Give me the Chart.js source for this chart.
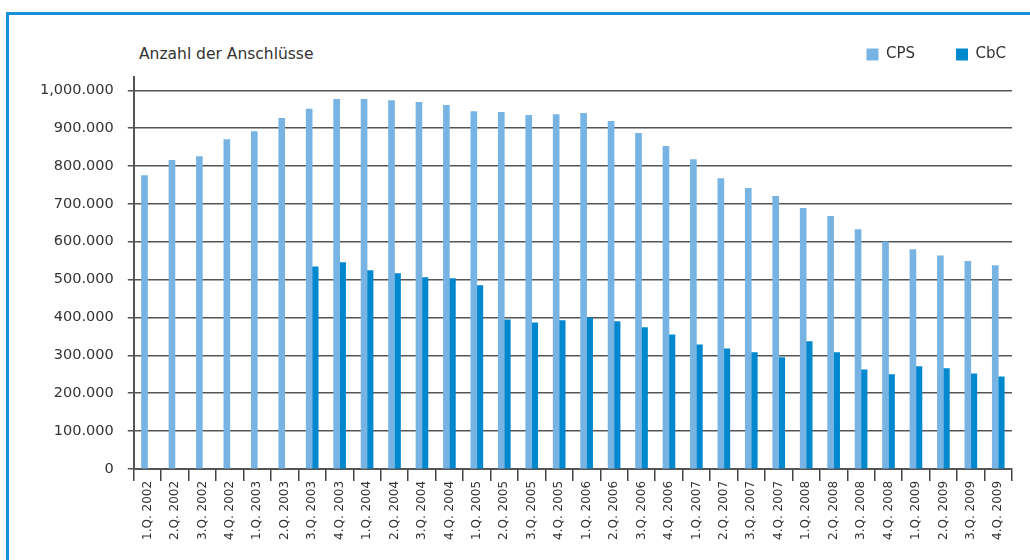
<!DOCTYPE html>
<html>
<head>
<meta charset="utf-8">
<script src="https://cdn.jsdelivr.net/npm/chart.js@4/dist/chart.umd.min.js"></script>
<style>
  html, body { margin: 0; padding: 0; background: #fff; }
  #wrap { position: relative; width: 1030px; height: 560px; overflow: hidden; }
  /* blue frame: only top and left edges are visible */
  #frame { position: absolute; left: 6px; top: 12px; width: 1100px; height: 700px;
           border-top: 3px solid #1690d6; border-left: 3px solid #1690d6; }
  #title { position: absolute; left: 139px; top: 45px; line-height: 16px;
           font: 15.5px "DejaVu Sans", sans-serif; color: #333; }
  canvas { position: absolute; left: 0; top: 0; }
</style>
</head>
<body>
<div id="wrap">
  <div id="frame"></div>
  <div id="title">Anzahl der Anschlüsse</div>
  <canvas id="chart" width="1030" height="560"></canvas>
</div>
<script>
/* Data */
const quarters = [
  '1.Q. 2002', '2.Q. 2002', '3.Q. 2002', '4.Q. 2002',
  '1.Q. 2003', '2.Q. 2003', '3.Q. 2003', '4.Q. 2003',
  '1.Q. 2004', '2.Q. 2004', '3.Q. 2004', '4.Q. 2004',
  '1.Q. 2005', '2.Q. 2005', '3.Q. 2005', '4.Q. 2005',
  '1.Q. 2006', '2.Q. 2006', '3.Q. 2006', '4.Q. 2006',
  '1.Q. 2007', '2.Q. 2007', '3.Q. 2007', '4.Q. 2007',
  '1.Q. 2008', '2.Q. 2008', '3.Q. 2008', '4.Q. 2008',
  '1.Q. 2009', '2.Q. 2009', '3.Q. 2009', '4.Q. 2009'
];

const cpsValues = [
  775000, 815000, 825000, 870000, 891000, 926000, 950000, 976000,
  976000, 973000, 968000, 960000, 944000, 942000, 934000, 936000,
  939000, 918000, 886000, 852000, 817000, 767000, 741000, 720000,
  688000, 667000, 632000, 600000, 579000, 563000, 548000, 537000
];

const cbcValues = [
  null, null, null, null, null, null, 534000, 545000,
  524000, 516000, 505000, 503000, 484000, 394000, 386000, 392000,
  399000, 389000, 373000, 354000, 328000, 317000, 307000, 294000,
  336000, 307000, 262000, 249000, 270000, 265000, 251000, 243000
];

const yTicks = [0, 100000, 200000, 300000, 400000, 500000, 600000, 700000, 800000, 900000, 1000000];

/* 1000000 -> "1,000.000", 900000 -> "900.000" */
function formatNumber(v) {
    if (v === 0) return '0';
    const s = String(v);
    let out = '';
    let count = 0;
    for (let i = s.length - 1; i >= 0; i--) {
        out = s[i] + out;
        count++;
        if (count % 3 === 0 && i > 0) {
            out = (count === 3 ? '.' : ',') + out;
        }
    }
    return out;
}

const textColor = '#333333';
const fontFamily = '"DejaVu Sans", sans-serif';

/* Legend tweaks: a bit more room under it, and pushed to the right edge */
const legendFitPlugin = {
    id: 'legendFit',
    beforeInit(chart) {
        const origFit = chart.legend.fit;
        chart.legend.fit = function () {
            origFit.call(this);
            this.height += 5;
        };
    },
    afterLayout(chart) {
        chart.legend.right += 35;
    }
};

var ctx = document.getElementById('chart');
var chart = new Chart(ctx, {
    type: 'bar',
    data: {
        labels: quarters,
        datasets: [{
            label: 'CPS',
            data: cpsValues,
            backgroundColor: '#78b4e3',
            barThickness: 6
        }, {
            label: 'CbC',
            data: cbcValues,
            backgroundColor: '#0088cf',
            barThickness: 6
        }]
    },
    options: {
        responsive: false,
        animation: false,
        layout: {
            padding: { left: 26, right: 18, top: 6, bottom: 20 }
        },
        plugins: {
            legend: {
                position: 'top',
                align: 'end',
                labels: {
                    boxWidth: 12,
                    boxHeight: 12,
                    padding: 41,
                    color: textColor,
                    font: { family: fontFamily, size: 15 }
                }
            },
            tooltip: { enabled: false }
        },
        scales: {
            x: {
                grid: {
                    offset: true,
                    drawOnChartArea: false,
                    drawTicks: true,
                    tickLength: 12,
                    color: '#444',
                    lineWidth: 1.5
                },
                border: { color: '#555', width: 2 },
                ticks: {
                    autoSkip: false,
                    minRotation: 90,
                    maxRotation: 90,
                    padding: 0,
                    color: textColor,
                    font: { family: fontFamily, size: 12 }
                }
            },
            y: {
                min: 0,
                max: 1035000,
                afterBuildTicks: (axis) => {
                    axis.ticks = yTicks.map(v => ({ value: v }));
                },
                grid: {
                    color: '#555',
                    lineWidth: 1.5,
                    tickLength: 6
                },
                border: { color: '#555', width: 2 },
                ticks: {
                    padding: 14,
                    color: textColor,
                    font: { family: fontFamily, size: 14.5 },
                    callback: (v) => formatNumber(v)
                }
            }
        }
    },
    plugins: [legendFitPlugin]
});
</script>
</body>
</html>
